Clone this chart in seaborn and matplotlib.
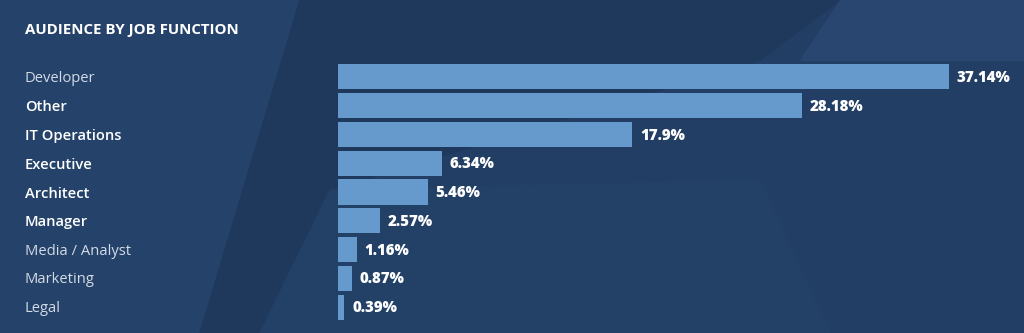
import matplotlib
matplotlib.use("Agg")
import matplotlib.pyplot as plt
import matplotlib.transforms as mtransforms
from matplotlib.patches import Polygon
import seaborn as sns
import pandas as pd

categories = ["Developer", "Other", "IT Operations", "Executive", "Architect",
              "Manager", "Media / Analyst", "Marketing", "Legal"]
values = [37.14, 28.18, 17.9, 6.34, 5.46, 2.57, 1.16, 0.87, 0.39]
value_labels = ["37.14%", "28.18%", "17.9%", "6.34%", "5.46%", "2.57%", "1.16%", "0.87%", "0.39%"]
strong = [False, True, True, True, True, True, False, False, False]
title = "AUDIENCE BY JOB FUNCTION"

sns.set_theme(style="white")
plt.rcParams['font.family'] = ['Open Sans', 'DejaVu Sans']

W, H = 1024, 333
fig = plt.figure(figsize=(W / 100, H / 100), dpi=100)
bg = "#223d62"
fig.patch.set_facecolor(bg)

# subtle background shapes
bgax = fig.add_axes([0, 0, 1, 1])
bgax.set_xlim(0, W); bgax.set_ylim(H, 0); bgax.axis("off")
bgax.add_patch(Polygon([[0, 0], [1024, 0], [1024, 333], [0, 333]], color="#223e64", zorder=0))
bgax.add_patch(Polygon([[0, 0], [300, 0], [200, 333], [0, 333]], color="#25426a", zorder=1))
bgax.add_patch(Polygon([[300, 0], [840, 0], [760, 60], [330, 190], [260, 333], [200, 333]], color="#1f395c", zorder=1))
bgax.add_patch(Polygon([[840, 0], [1024, 0], [1024, 60], [800, 60]], color="#284670", zorder=1))
bgax.add_patch(Polygon([[330, 190], [760, 180], [830, 333], [260, 333]], color="#234066", zorder=1))

left_px, right_px = 338, 1010
top_px, bot_px = 62.6, 321.4
ax = fig.add_axes([left_px / W, 1 - bot_px / H, (right_px - left_px) / W, (bot_px - top_px) / H])
ax.set_facecolor("none")

df = pd.DataFrame({"category": categories, "value": values})
sns.barplot(data=df, x="value", y="category", color="#6699cc", saturation=1,
            width=0.87, ax=ax, order=categories, linewidth=0, edgecolor="none")
ax.set_xlim(0, 37.14 * (right_px - left_px) / 611)
ax.set_ylim(len(categories) - 0.5, -0.5)
ax.axis("off")

for i, (v, lab) in enumerate(zip(values, value_labels)):
    ax.annotate(lab, (v, i + 0.04), xytext=(5.5, 0), textcoords="offset points",
                ha="left", va="center", color="white", fontsize=10.8, fontweight="heavy")

trans = mtransforms.blended_transform_factory(fig.transFigure, ax.transData)
for i, (c, s) in enumerate(zip(categories, strong)):
    fig.text(25 / W, i + 0.06, c, transform=trans, ha="left", va="center",
             fontsize=10.6, color="white" if s else "#d3dbe6",
             fontweight="semibold" if s else "normal")

fig.text(25 / W, 1 - 30 / H, title, ha="left", va="center", color="white",
         fontsize=10.8, fontweight="bold")

fig.savefig("out.png", dpi=100, facecolor=fig.get_facecolor())
